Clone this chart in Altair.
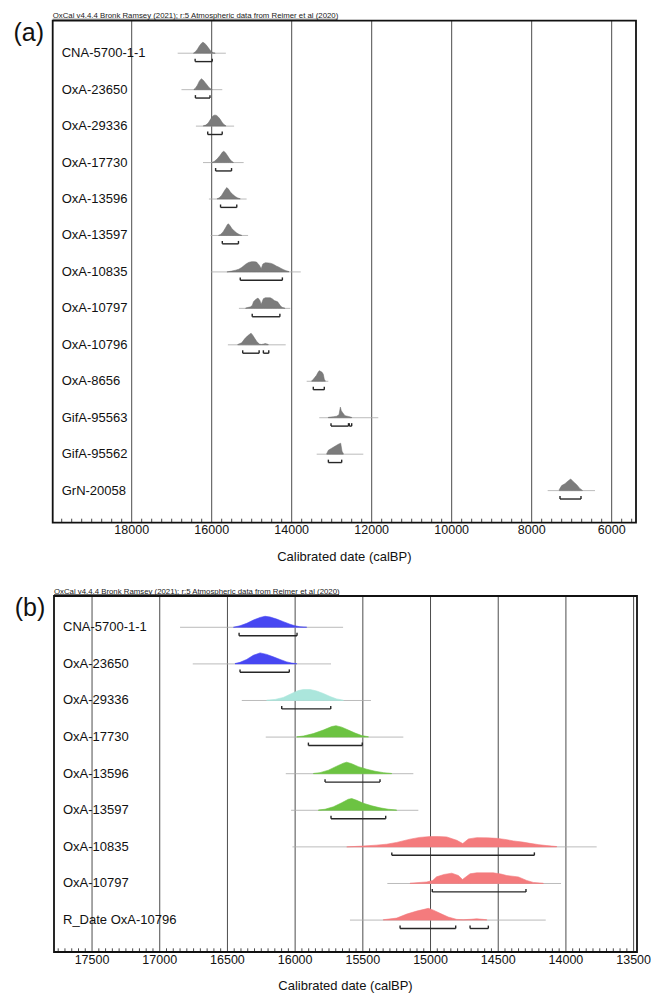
import altair as alt
import pandas as pd

FONT = "Liberation Sans"
HEADER = "OxCal v4.4.4 Bronk Ramsey (2021); r:5 Atmospheric data from Reimer et al (2020)"
AXIS_TITLE = "Calibrated date (calBP)"

# Sample names, top to bottom
names = ["CNA-5700-1-1", "OxA-23650", "OxA-29336", "OxA-17730", "OxA-13596",
         "OxA-13597", "OxA-10835", "OxA-10797", "OxA-10796", "OxA-8656",
         "GifA-95563", "GifA-95562", "GrN-20058"]
labels_b = names[:8] + ["R_Date OxA-10796"]

# Calibrated probability curves: calendar age (cal BP) and relative density
yr_cna5700 = [16456, 16407, 16357, 16308, 16259, 16222, 16185, 16136, 16087, 16038, 16001, 15964, 15914]
pd_cna5700 = [0.0, 0.13, 0.34, 0.62, 0.84, 0.94, 0.88, 0.70, 0.48, 0.26, 0.13, 0.04, 0.01]

yr_oxa23650 = [16444, 16407, 16358, 16309, 16259, 16210, 16161, 16111, 16062, 16025, 15988]
pd_oxa23650 = [0.03, 0.13, 0.38, 0.73, 0.94, 0.81, 0.60, 0.38, 0.17, 0.07, 0.02]

yr_oxa29336 = [16210, 16148, 16087, 16025, 15976, 15939, 15890, 15841, 15792, 15742, 15693, 15644]
pd_oxa29336 = [0.03, 0.09, 0.26, 0.60, 0.85, 0.94, 0.94, 0.81, 0.60, 0.34, 0.13, 0.03]

yr_oxa17730 = [15988, 15939, 15865, 15792, 15730, 15698, 15656, 15607, 15557, 15508, 15459]
pd_oxa17730 = [0.02, 0.09, 0.30, 0.60, 0.90, 0.97, 0.85, 0.60, 0.34, 0.13, 0.03]

yr_oxa13596 = [15865, 15816, 15754, 15693, 15644, 15619, 15582, 15533, 15471, 15410, 15348, 15287]
pd_oxa13596 = [0.02, 0.09, 0.30, 0.64, 0.90, 0.98, 0.85, 0.60, 0.38, 0.21, 0.09, 0.02]

yr_oxa13597 = [15828, 15779, 15717, 15656, 15607, 15582, 15545, 15496, 15434, 15373, 15312, 15250]
pd_oxa13597 = [0.02, 0.09, 0.30, 0.64, 0.94, 1.00, 0.85, 0.60, 0.38, 0.21, 0.09, 0.02]

yr_oxa10835 = [15619, 15500, 15400, 15324, 15250, 15151, 15080, 15004, 14940, 14880, 14806, 14762,
               14720, 14659, 14580, 14511, 14450, 14388, 14320, 14265, 14200, 14142, 14068]
pd_oxa10835 = [0.0, 0.07, 0.15, 0.23, 0.38, 0.66, 0.81, 0.88, 0.88, 0.85, 0.56, 0.28,
               0.68, 0.79, 0.77, 0.73, 0.64, 0.51, 0.41, 0.30, 0.19, 0.11, 0.03]

yr_oxa10797 = [15151, 15028, 14984, 14955, 14900, 14843, 14794, 14764, 14708, 14659, 14536,
               14480, 14437, 14351, 14290, 14241, 14167]
pd_oxa10797 = [0.03, 0.13, 0.26, 0.57, 0.77, 0.88, 0.68, 0.34, 0.83, 0.91, 0.91,
               0.81, 0.68, 0.56, 0.26, 0.09, 0.02]

yr_oxa10796 = [15349, 15250, 15176, 15102, 15016, 14979, 14917, 14869, 14806, 14758, 14700, 14659, 14620, 14585]
pd_oxa10796 = [0.03, 0.17, 0.51, 0.77, 1.00, 0.85, 0.51, 0.26, 0.06, 0.03, 0.07, 0.11, 0.07, 0.03]

yr_oxa8656 = [13500, 13460, 13420, 13380, 13340, 13310, 13280, 13240, 13210, 13185, 13160]
pd_oxa8656 = [0.03, 0.17, 0.34, 0.51, 0.77, 0.91, 0.85, 0.77, 0.60, 0.17, 0.03]

yr_gifa95563 = [13085, 12950, 12875, 12817, 12783, 12760, 12725, 12667, 12583, 12500]
pd_gifa95563 = [0.03, 0.09, 0.13, 0.26, 0.91, 0.60, 0.43, 0.17, 0.11, 0.03]

yr_gifa95562 = [13125, 13083, 13000, 12917, 12833, 12775, 12742, 12708]
pd_gifa95562 = [0.04, 0.34, 0.51, 0.68, 0.85, 0.94, 0.26, 0.03]

yr_grn20058 = [7310, 7250, 7167, 7083, 7025, 6958, 6875, 6792, 6733]
pd_grn20058 = [0.09, 0.43, 0.60, 0.85, 1.00, 0.77, 0.51, 0.17, 0.03]

curves = [(yr_cna5700, pd_cna5700), (yr_oxa23650, pd_oxa23650), (yr_oxa29336, pd_oxa29336),
          (yr_oxa17730, pd_oxa17730), (yr_oxa13596, pd_oxa13596), (yr_oxa13597, pd_oxa13597),
          (yr_oxa10835, pd_oxa10835), (yr_oxa10797, pd_oxa10797), (yr_oxa10796, pd_oxa10796),
          (yr_oxa8656, pd_oxa8656), (yr_gifa95563, pd_gifa95563), (yr_gifa95562, pd_gifa95562),
          (yr_grn20058, pd_grn20058)]

# Full extent of each likelihood (faint line)
tail_from = [16850, 16756, 16394, 16217, 16069, 16030, 16020, 15319, 15595, 13625, 13310, 13375, 7600]
tail_to = [15646, 15735, 15440, 15201, 15127, 15090, 13773, 14036, 14149, 13085, 11835, 12210, 6417]

# 95.4% probability ranges
range_row = [0, 1, 2, 3, 4, 5, 6, 7, 8, 8, 9, 10, 10, 11, 12]
range_from = [16414, 16407, 16099, 15902, 15779, 15735, 15286, 14987, 15225, 14708, 13460, 13017, 12560, 13083, 7292]
range_to = [15986, 16043, 15737, 15504, 15373, 15331, 14233, 14295, 14814, 14573, 13185, 12580, 12500, 12750, 6767]

# Colour groups of the detail plot
group_b = ["#4747f2", "#4747f2", "#abe6dc", "#6cc342", "#6cc342", "#6cc342",
           "#f47b7d", "#f47b7d", "#f47b7d"]

majors_a = [18000, 16000, 14000, 12000, 10000, 8000, 6000]
majors_b = [17500, 17000, 16500, 16000, 15500, 15000, 14500, 14000, 13500]
minors_a = [v for v in range(19750, 5499, -250) if v % 2000 != 0]
minors_b = [v for v in range(17750, 13499, -50) if v % 500 != 0]


def curve_table(n):
    recs = []
    for i in range(n):
        yrs, ds = curves[i]
        for y, d in zip(yrs, ds):
            recs.append({"row": i, "sample": names[i], "year": y, "dens": d})
    return pd.DataFrame(recs)


def panel(n, labels, tag, xdom, xrng, ydom, yrng, majors, minors, tick_len, colors):
    xs = alt.Scale(domain=xdom, range=xrng, nice=False, zero=False)
    ys = alt.Scale(domain=ydom, range=yrng, nice=False, zero=False)

    def X(field):
        return alt.X(field, type="quantitative", scale=xs, axis=None)

    def Y(field):
        return alt.Y(field, type="quantitative", scale=ys, axis=None)

    def XD(v):
        return alt.XDatum(v, type="quantitative", scale=xs, axis=None)

    def YD(v):
        return alt.YDatum(v, type="quantitative", scale=ys, axis=None)

    one = pd.DataFrame({"k": [0]})
    top, bottom = ydom
    left, right = xdom
    yrs_per_px = (left - right) / (xrng[1] - xrng[0])
    rows_per_px = (bottom - top) / (yrng[1] - yrng[0])

    grid = alt.Chart(pd.DataFrame({"year": majors})).mark_rule(
        color="#4d4d4d", strokeWidth=1
    ).encode(x=X("year"), y=YD(top), y2=alt.datum(bottom))

    ticks = alt.Chart(pd.DataFrame({"year": minors})).mark_rule(
        color="#333", strokeWidth=0.9
    ).encode(x=X("year"), y=YD(bottom), y2=alt.datum(bottom - tick_len))

    frame = alt.Chart(one).mark_rect(
        fill=None, stroke="#111", strokeWidth=1.8
    ).encode(x=XD(left), x2=alt.datum(right), y=YD(top), y2=alt.datum(bottom))

    tails = alt.Chart(pd.DataFrame({
        "row": list(range(n)), "start": tail_from[:n], "end": tail_to[:n]
    })).mark_rule(color="#a9a9a9", strokeWidth=0.8).encode(
        x=X("start"), x2=alt.X2("end"), y=Y("row")
    )

    cdf = curve_table(n)
    base_area = alt.Chart(cdf).transform_calculate(
        top="datum.row - datum.dens * 0.32"
    )
    if colors is None:
        areas = base_area.mark_area(
            orient="vertical", color="#7c7c7c", stroke="#6a6a6a", strokeWidth=0.5
        ).encode(x=X("year"), y=Y("top"), y2=alt.Y2("row"), detail="sample:N")
    else:
        areas = base_area.mark_area(
            orient="vertical", opacity=1, strokeWidth=0.6
        ).encode(
            x=X("year"), y=Y("top"), y2=alt.Y2("row"), detail="sample:N",
            color=alt.Color("sample:N", scale=alt.Scale(domain=names[:n], range=colors), legend=None),
            stroke=alt.Stroke("sample:N", scale=alt.Scale(domain=names[:n], range=colors), legend=None),
        )

    rsel = [k for k, r in enumerate(range_row) if r < n]
    rdf = pd.DataFrame({
        "row": [range_row[k] for k in rsel],
        "start": [range_from[k] for k in rsel],
        "end": [range_to[k] for k in rsel],
    })
    bars = alt.Chart(rdf).transform_calculate(by="datum.row + 0.23").mark_rule(
        color="#262626", strokeWidth=1.4
    ).encode(x=X("start"), x2=alt.X2("end"), y=Y("by"))
    caps = alt.Chart(rdf).transform_fold(["start", "end"], as_=["side", "year"]).transform_calculate(
        by="datum.row + 0.23", bt="datum.row + 0.15"
    ).mark_rule(color="#262626", strokeWidth=1.4).encode(
        x=X("year:Q"), y=Y("by"), y2=alt.Y2("bt")
    )

    row_labels = alt.Chart(pd.DataFrame({"row": list(range(n)), "label": labels})).mark_text(
        align="left", baseline="middle", dx=9, font=FONT, fontSize=13, color="#111"
    ).encode(x=XD(left), y=Y("row"), text="label:N")

    tick_labels = alt.Chart(pd.DataFrame({"year": majors})).mark_text(
        align="center", baseline="middle", dy=7.5, font=FONT, fontSize=12.5, color="#111"
    ).encode(x=X("year"), y=YD(bottom), text=alt.Text("year:Q", format="d"))

    title = alt.Chart(one).mark_text(
        align="center", baseline="middle", dy=34, font=FONT, fontSize=13, color="#111"
    ).encode(x=XD((left + right) / 2), y=YD(bottom), text=alt.value(AXIS_TITLE))

    tag_text = alt.Chart(one).mark_text(
        align="center", baseline="middle", dx=-24, dy=12, font=FONT, fontSize=25, color="#111"
    ).encode(x=XD(left), y=YD(top), text=alt.value(tag))

    header = alt.Chart(one).mark_text(
        align="left", baseline="alphabetic", dy=-2.5, font=FONT, fontSize=7.8, color="#222222"
    ).encode(x=XD(left), y=YD(top), text=alt.value(HEADER))

    # underline of the header text: 285 px long, 1.5 px above the frame
    uline = pd.DataFrame({
        "u0": [left], "u1": [left - 285 * yrs_per_px], "uy": [top - 1.5 * rows_per_px]
    })
    underline = alt.Chart(uline).mark_rule(color="#262626", strokeWidth=0.7).encode(
        x=X("u0"), x2=alt.X2("u1"), y=Y("uy")
    )

    return alt.layer(grid, ticks, tails, areas, bars, caps, frame,
                     row_labels, tick_labels, title, tag_text, header, underline)


panel_a = panel(13, names, "(a)", [19975, 5392], [52.7, 636], [-0.892, 12.88], [20.7, 522.7],
                majors_a, minors_a, 0.11, None)
panel_b = panel(9, labels_b, "(b)", [17781, 13475], [54, 637], [-0.855, 8.872], [596, 952],
                majors_b, minors_b, 0.1, group_b)

chart = alt.layer(panel_a, panel_b).resolve_scale(
    x="independent", y="independent", color="independent", stroke="independent"
).properties(
    width=651, height=994, padding=0,
    autosize=alt.AutoSizeParams(type="none"),
    background="white",
).configure_view(stroke=None)

chart.save("out.html", embed_options={"renderer": "svg", "actions": False})
